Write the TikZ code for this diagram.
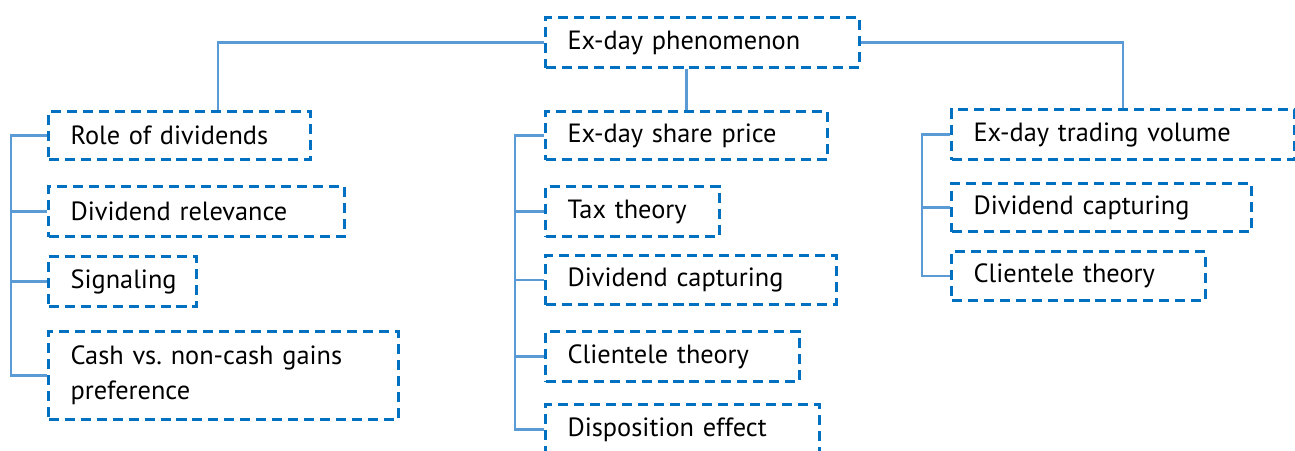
\documentclass[tikz,border=0pt]{standalone}
\usepackage{fontspec}
\setmainfont{PT Sans}
\definecolor{boxblue}{HTML}{0070C0}
\definecolor{linkblue}{HTML}{5B9BD5}
\begin{document}
\begin{tikzpicture}[
  x=0.02cm, y=-0.02cm,
  box/.style={draw=boxblue, line width=1.8pt, dash pattern=on 5.7pt off 3.4pt, anchor=north west, align=left, inner xsep=0.44cm, inner ysep=0pt, font=\fontsize{15}{20}\selectfont},
  link/.style={draw=linkblue, line width=1.3pt}
]
\useasboundingbox (0,0) rectangle (1295,450);
\node[box, text width=5.40cm, minimum height=1.00cm] (root) at (544,16) {Ex-day phenomenon};
\node[box, text width=4.36cm, minimum height=0.96cm] (role) at (47,110) {Role of dividends};
\node[box, text width=5.04cm, minimum height=1.00cm] (relev) at (47,185) {Dividend relevance};
\node[box, text width=2.08cm, minimum height=1.00cm] (signal) at (47,255) {Signaling};
\node[box, text width=6.12cm, minimum height=1.76cm] (cash) at (47,330) {Cash vs.\ non-cash gains\\preference};
\node[box, text width=4.76cm, minimum height=0.96cm] (share) at (544,110) {Ex-day share price};
\node[box, text width=2.60cm, minimum height=1.00cm] (tax) at (544,185) {Tax theory};
\node[box, text width=4.94cm, minimum height=0.98cm] (capa) at (544,254) {Dividend capturing};
\node[box, text width=4.20cm, minimum height=1.00cm] (clienta) at (544,330) {Clientele theory};
\node[box, text width=4.60cm, minimum height=1.00cm] (dispo) at (544,403) {Disposition effect};
\node[box, text width=5.98cm, minimum height=1.00cm] (volume) at (950,108) {Ex-day trading volume};
\node[box, text width=5.12cm, minimum height=0.96cm] (capb) at (950,182) {Dividend capturing};
\node[box, text width=4.20cm, minimum height=0.98cm] (clientb) at (950,250) {Clientele theory};
\draw[link] (root.west) -| (role.north -| 218,0);
\draw[link] (root.east) -| (volume.north);
\draw[link] (share.north |- root.south) -- (share.north);
\draw[link] (role.west) -| (cash.west -| 11,0) -- (cash.west);
\draw[link] (relev.west) -- (relev.west -| 11,0);
\draw[link] (signal.west) -- (signal.west -| 11,0);
\draw[link] (share.west) -| (dispo.west -| 515,0) -- (dispo.west);
\draw[link] (tax.west) -- (tax.west -| 515,0);
\draw[link] (capa.west) -- (capa.west -| 515,0);
\draw[link] (clienta.west) -- (clienta.west -| 515,0);
\draw[link] (volume.west) -| (clientb.west -| 922,0) -- (clientb.west);
\draw[link] (capb.west) -- (capb.west -| 922,0);
\end{tikzpicture}
\end{document}
